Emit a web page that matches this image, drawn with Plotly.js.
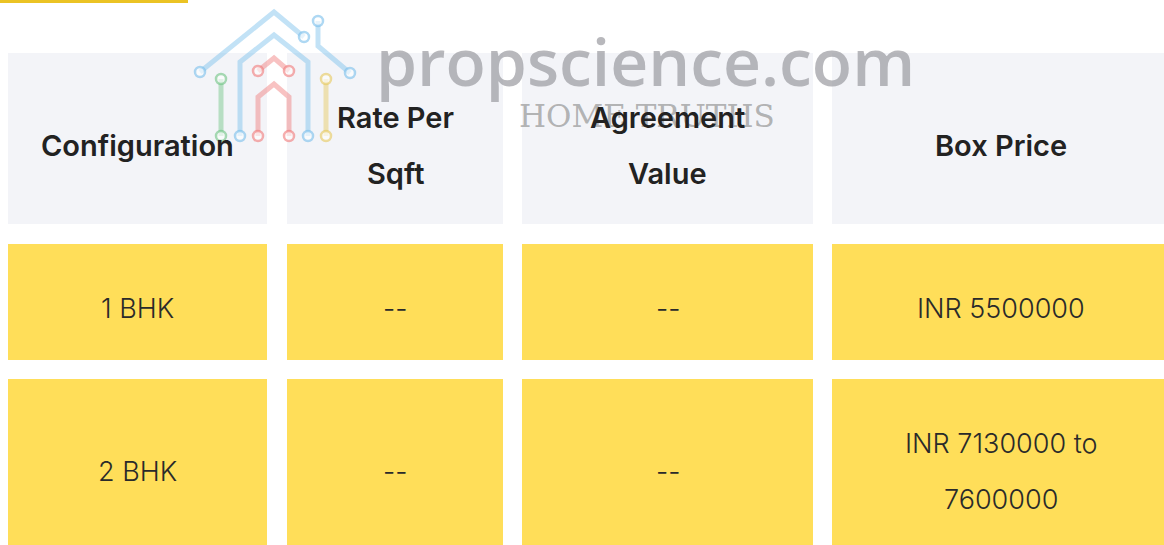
<!DOCTYPE html>
<html><head><meta charset="utf-8">
<script src="https://cdn.plot.ly/plotly-3.0.1.min.js"></script>
<style>html,body{margin:0;padding:0;background:#fff}#chart{width:1164px;height:545px}</style>
</head><body><div id="chart"></div>
<script>
// ---- data ----
var headers = [["Configuration"], ["Rate Per", "Sqft"], ["Agreement", "Value"], ["Box Price"]];
var configuration = ["1 BHK", "2 BHK"];
var ratePerSqft = ["--", "--"];
var agreementValue = ["--", "--"];
var boxPrice = [["INR 5500000"], ["INR 7130000 to", "7600000"]];

// ---- layout geometry ----
var colLeft = [8, 287, 522, 832];
var colRight = [267, 503, 813, 1170];
var rowTop = [53, 244, 379];
var rowBottom = [224, 360, 562];
var textOffset = 7;
var lineGap = 56;

var headerFill = "#f3f4f8";
var cellFill = "#ffde59";

var shapes = [];
var annotations = [];

// top accent bar
shapes.push({type: "rect", xref: "x", yref: "y", x0: 0, x1: 188, y0: 0, y1: 3, fillcolor: "#ebc324", line: {width: 0}, layer: "below"});

function addText(lines, cx, cy, font) {
  var n = lines.length;
  for (var i = 0; i < n; i++) {
    annotations.push({
      xref: "x", yref: "y", x: cx, y: cy + (i - (n - 1) / 2) * lineGap,
      text: lines[i], showarrow: false, xanchor: "center", yanchor: "middle",
      font: font
    });
  }
}

var headFont = {family: "Inter, 'Open Sans', sans-serif", size: 29, color: "#222222", weight: 600};
var bodyFont = {family: "Inter, 'Open Sans', sans-serif", size: 27, color: "#2a2a2a", weight: 300};

var rows = [];
for (var r = 0; r < configuration.length; r++) {
  rows.push([[configuration[r]], [ratePerSqft[r]], [agreementValue[r]], boxPrice[r]]);
}

for (var c = 0; c < colLeft.length; c++) {
  shapes.push({type: "rect", xref: "x", yref: "y", x0: colLeft[c], x1: colRight[c], y0: rowTop[0], y1: rowBottom[0], fillcolor: headerFill, line: {width: 0}, layer: "below"});
}
for (var r = 0; r < rows.length; r++) {
  for (var c = 0; c < colLeft.length; c++) {
    shapes.push({type: "rect", xref: "x", yref: "y", x0: colLeft[c], x1: colRight[c], y0: rowTop[r + 1], y1: rowBottom[r + 1], fillcolor: cellFill, line: {width: 0}, layer: "below"});
  }
}

// watermark logo
var logoLines = [
  {d: "M200,72 L274,12 L304,37", c: "rgba(120,190,235,0.45)"},
  {d: "M318,21 L318,46 L350,73", c: "rgba(120,190,235,0.45)"},
  {d: "M240,136 L240,62 L274,35 L308,62 L308,136", c: "rgba(120,190,235,0.45)"},
  {d: "M258,71 L274,58 L289,71", c: "rgba(240,120,120,0.45)"},
  {d: "M258,136 L258,97 L274,84 L289,97 L289,136", c: "rgba(240,120,120,0.45)"},
  {d: "M221,79 L221,136", c: "rgba(110,195,130,0.45)"},
  {d: "M326,79 L326,136", c: "rgba(230,200,90,0.45)"}
];
logoLines.forEach(function (l) {
  shapes.push({type: "path", xref: "x", yref: "y", path: l.d, line: {color: l.c, width: 5}});
});
var logoDots = [
  [200, 72, "rgba(120,190,235,0.6)"], [304, 37, "rgba(120,190,235,0.6)"], [318, 21, "rgba(120,190,235,0.6)"], [350, 73, "rgba(120,190,235,0.6)"],
  [240, 136, "rgba(120,190,235,0.6)"], [308, 136, "rgba(120,190,235,0.6)"],
  [258, 71, "rgba(240,120,120,0.6)"], [289, 71, "rgba(240,120,120,0.6)"], [258, 136, "rgba(240,120,120,0.6)"], [289, 136, "rgba(240,120,120,0.6)"],
  [221, 79, "rgba(110,195,130,0.6)"], [221, 136, "rgba(110,195,130,0.6)"],
  [326, 79, "rgba(230,200,90,0.6)"], [326, 136, "rgba(230,200,90,0.6)"]
];
logoDots.forEach(function (d) {
  shapes.push({type: "circle", xref: "x", yref: "y", x0: d[0] - 5, x1: d[0] + 5, y0: d[1] - 5, y1: d[1] + 5, fillcolor: "rgba(255,255,255,0.6)", line: {color: d[2], width: 2.5}});
});

// watermark text
annotations.push({xref: "x", yref: "y", x: 645, y: 60, text: "propscience.com", showarrow: false, xanchor: "center", yanchor: "middle",
  font: {family: "'Open Sans', sans-serif", size: 66, color: "rgba(150,151,156,0.68)", weight: 600}});
annotations.push({xref: "x", yref: "y", x: 647, y: 116, text: "HOME TRUTHS", showarrow: false, xanchor: "center", yanchor: "middle",
  font: {family: "'DejaVu Serif', serif", size: 31, color: "rgba(140,140,140,0.65)", weight: 300}});

// header text
for (var c = 0; c < headers.length; c++) {
  addText(headers[c], (colLeft[c] + colRight[c]) / 2, (rowTop[0] + rowBottom[0]) / 2 + textOffset, headFont);
}
var rowCenters = [308, 471];
for (var r = 0; r < rows.length; r++) {
  for (var c = 0; c < colLeft.length; c++) {
    addText(rows[r][c], (colLeft[c] + colRight[c]) / 2, rowCenters[r], bodyFont);
  }
}

var layout = {
  width: 1164, height: 545,
  margin: {l: 0, r: 0, t: 0, b: 0},
  paper_bgcolor: "#ffffff", plot_bgcolor: "#ffffff",
  xaxis: {range: [0, 1164], visible: false, fixedrange: true},
  yaxis: {range: [545, 0], visible: false, fixedrange: true},
  shapes: shapes, annotations: annotations, showlegend: false
};
Plotly.newPlot("chart", [], layout, {staticPlot: true, displayModeBar: false});
</script></body></html>
